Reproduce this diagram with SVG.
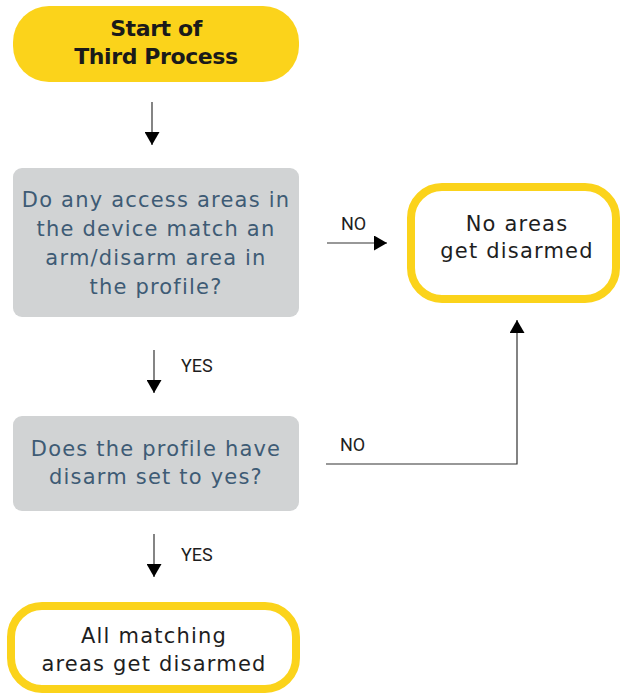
<svg xmlns="http://www.w3.org/2000/svg" width="621" height="695" viewBox="0 0 621 695">
<defs>
<style>
.start{fill:#FBD31B;}
.q{fill:#D1D3D4;}
.end{fill:#FFFFFF;stroke:#FBD31B;stroke-width:8;}
.tb{font-family:"DejaVu Sans",sans-serif;font-weight:bold;font-size:22px;fill:#1A1A1A;text-anchor:middle;letter-spacing:-0.4px;}
.tq{font-family:"DejaVu Sans",sans-serif;font-size:21px;fill:#3E5B75;text-anchor:middle;letter-spacing:1.2px;}
.te{font-family:"DejaVu Sans",sans-serif;font-size:21px;fill:#1E1E1E;text-anchor:middle;letter-spacing:1.2px;}
.lbl{font-family:Roboto,"Liberation Sans",sans-serif;font-size:18px;fill:#1E1E1E;}
.ln{fill:none;stroke:#333333;stroke-width:1.2;}
</style>
<marker id="ah" markerWidth="15" markerHeight="15" viewBox="0 0 13 15" refX="13" refY="7.5" orient="auto" markerUnits="userSpaceOnUse">
<path d="M0,0 L13,7.5 L0,15 Z" fill="#000000"/>
</marker>
</defs>
<rect width="621" height="695" fill="#FFFFFF"/>

<g id="start">
<rect class="start" x="13" y="6" width="286" height="76" rx="36" ry="36"/>
<text class="tb" x="156" y="36">Start of</text>
<text class="tb" x="156" y="64">Third Process</text>
</g>

<g id="q1">
<rect class="q" x="13" y="168" width="286" height="149" rx="9" ry="9"/>
<text class="tq" x="156" y="207">Do any access areas in</text>
<text class="tq" x="156" y="236">the device match an</text>
<text class="tq" x="156" y="265">arm/disarm area in</text>
<text class="tq" x="156" y="294">the profile?</text>
</g>

<g id="noareas">
<rect class="end" x="411" y="187" width="205" height="112" rx="31" ry="31"/>
<text class="te" x="517" y="231">No areas</text>
<text class="te" x="517" y="258">get disarmed</text>
</g>

<g id="q2">
<rect class="q" x="13" y="416" width="286" height="95" rx="9" ry="9"/>
<text class="tq" x="156" y="456">Does the profile have</text>
<text class="tq" x="156" y="484">disarm set to yes?</text>
</g>

<g id="allareas">
<rect class="end" x="11" y="606" width="285" height="83" rx="31" ry="31"/>
<text class="te" x="154" y="643">All matching</text>
<text class="te" x="154" y="671">areas get disarmed</text>
</g>

<g id="connectors">
<line class="ln" x1="152" y1="102" x2="152" y2="145" marker-end="url(#ah)"/>
<line class="ln" x1="154" y1="350" x2="154" y2="393" marker-end="url(#ah)"/>
<text class="lbl" x="181" y="372">YES</text>
<line class="ln" x1="327" y1="243" x2="387" y2="243" marker-end="url(#ah)"/>
<text class="lbl" x="341" y="230">NO</text>
<polyline class="ln" points="326,464 517,464 517,320" marker-end="url(#ah)"/>
<text class="lbl" x="340" y="451">NO</text>
<line class="ln" x1="154" y1="534" x2="154" y2="577" marker-end="url(#ah)"/>
<text class="lbl" x="181" y="561">YES</text>
</g>
</svg>
